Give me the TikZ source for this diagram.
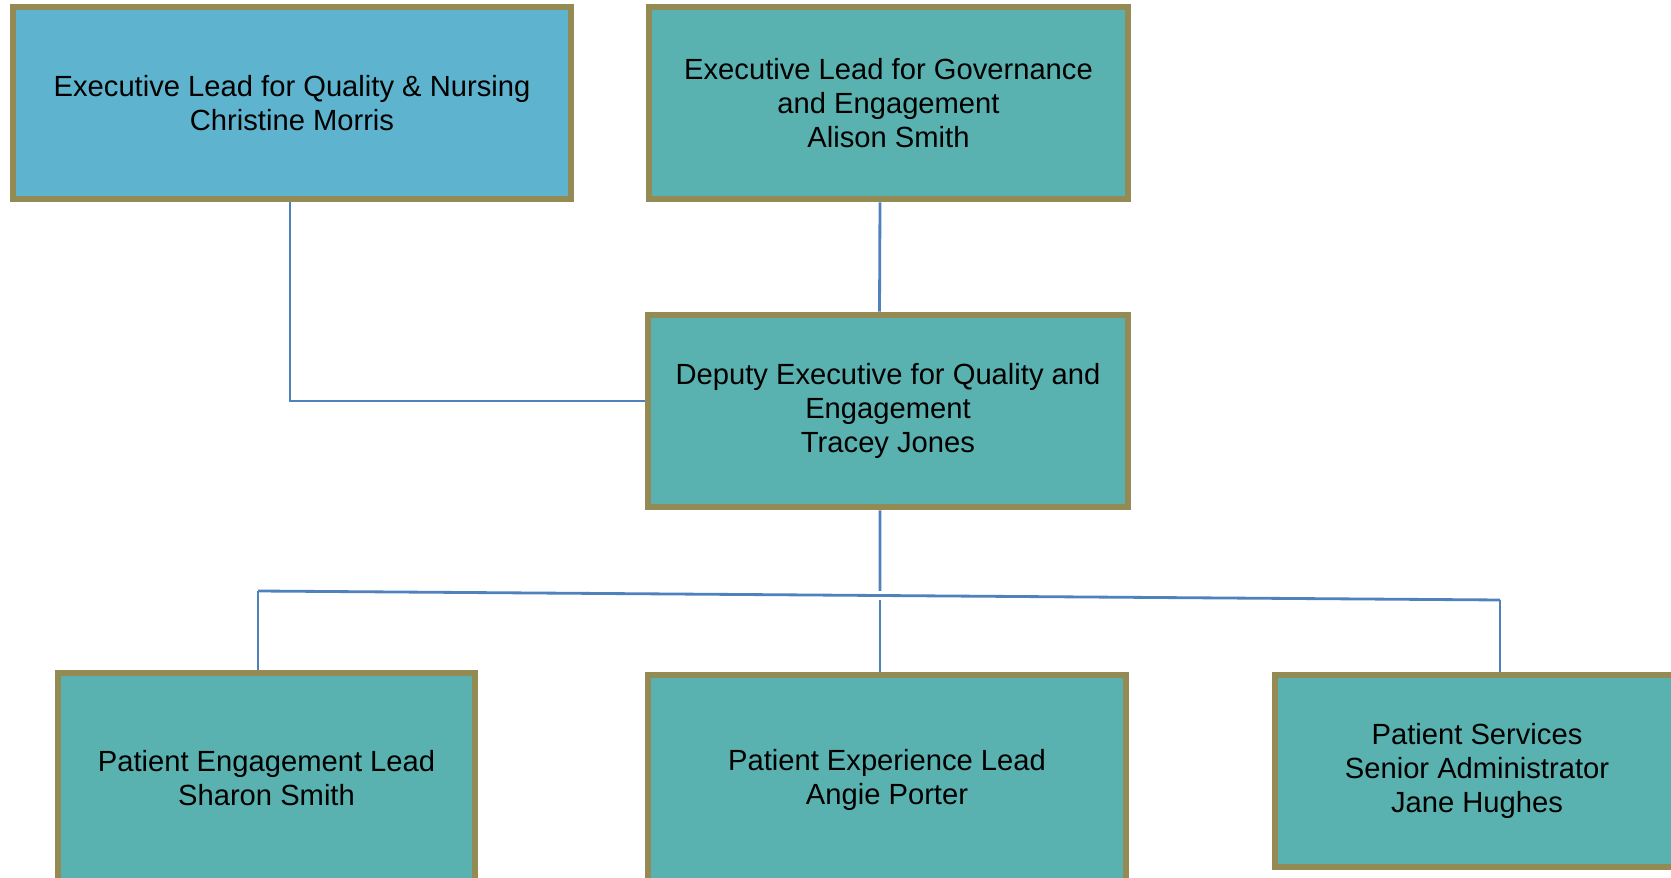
\documentclass[tikz,border=0pt]{standalone}
\usepackage{fontspec}
\setmainfont{Liberation Sans}
\usetikzlibrary{positioning,calc}
\definecolor{boxline}{RGB}{148,138,84}
\definecolor{leadblue}{RGB}{94,180,206}
\definecolor{staffteal}{RGB}{89,178,176}
\definecolor{linkblue}{RGB}{79,129,189}

\begin{document}
\begin{tikzpicture}
[font=\fontsize{8.3}{9.7}\selectfont, line width=0.75pt,
post/.style={rectangle, draw=boxline, line width=1.9pt, fill=staffteal, align=center, inner sep=0pt, minimum height=1.92cm},
link/.style={draw=linkblue, line width=0.8pt}]

\useasboundingbox (0,0) rectangle (16.71,-8.78);
\clip (0,0) rectangle (16.71,-8.78);

% top row
\node[post, fill=leadblue, minimum width=5.58cm] (qual) at (2.92,-1.03) {Executive Lead for Quality \& Nursing\\Christine Morris};
\node[post, minimum width=4.79cm] (gov) at (8.885,-1.03) {Executive Lead for Governance\\and Engagement\\Alison Smith};

% deputy
\node[post, minimum width=4.80cm] (dep) at (8.88,-4.11) {Deputy Executive for Quality and\\Engagement\\Tracey Jones};

% bottom row
\node[post, minimum width=4.17cm, minimum height=2.10cm] (eng) at (2.665,-7.78) {Patient Engagement Lead\\Sharon Smith};
\node[post, minimum width=4.78cm, minimum height=2.10cm] (exp) at (8.87,-7.80) {Patient Experience Lead\\Angie Porter};
\node[post, minimum width=4.04cm] (serv) at (14.77,-7.71) {Patient Services\\Senior Administrator\\Jane Hughes};

% junctions
\coordinate (jl) at (2.58,-5.91);
\coordinate (jr) at (15.00,-6.00);
\coordinate (gtop) at (8.80,-5.91);
\coordinate (gbot) at (8.80,-6.00);

\draw[link] ([xshift=-0.02cm]qual.south) |- ([yshift=0.1cm]dep.west);
\draw[link] ([xshift=-0.085cm]gov.south) -- ([xshift=-0.085cm]dep.north);
\draw[link] ([xshift=-0.08cm]dep.south) -- (gtop);
\draw[link] (jl) -- (jr);
\draw[link] (jl) -- (jl |- eng.north);
\draw[link] (gbot) -- (gbot |- exp.north);
\draw[link] (jr) -- (jr |- serv.north);
\end{tikzpicture}
\end{document}
